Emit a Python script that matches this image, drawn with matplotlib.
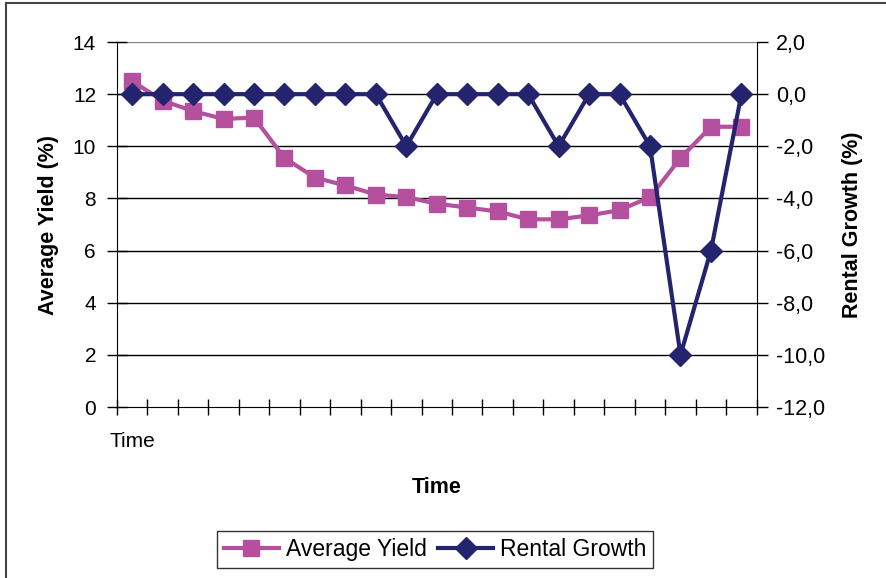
import matplotlib
matplotlib.use("Agg")
import matplotlib.pyplot as plt
from matplotlib.lines import Line2D
import numpy as np

plt.rcParams['font.family'] = ['Liberation Sans', 'DejaVu Sans']

categories = ["Time"] + [""] * 20
average_yield = [12.5, 11.75, 11.35, 11.05, 11.1, 9.55, 8.8, 8.5, 8.15, 8.05,
                 7.8, 7.65, 7.5, 7.2, 7.2, 7.35, 7.55, 8.05, 9.55, 10.75, 10.75]
rental_growth = [0, 0, 0, 0, 0, 0, 0, 0, 0, -2, 0, 0, 0, 0, -2, 0, 0, -2, -10, -6, 0]

pink = "#B5509F"
navy = "#24246E"

fig = plt.figure(figsize=(8.86, 5.78), dpi=100)
ax = fig.add_axes([0.132, 0.2958, 0.722, 0.6315])
ax2 = ax.twinx()

x = np.arange(len(categories))

ax.set_ylim(0, 14)
ax.set_yticks(np.arange(0, 15, 2))
ax.set_xlim(-0.5, len(categories) - 0.5)
ax.set_xticks(np.arange(-0.5, len(categories), 1.0))
ax.set_xticklabels([])
ax.set_xticks(x, minor=True)
ax.set_xticklabels(categories, minor=True)
ax.tick_params(axis='x', which='minor', length=0, pad=18, labelsize=15)
ax.tick_params(axis='x', which='major', direction='inout', length=12, width=1)
ax.tick_params(axis='y', which='major', direction='inout', length=14, width=1, labelsize=15, pad=8)

for yv in np.arange(2, 15, 2):
    ax.axhline(yv, color='black' if yv < 14 else '#808080', lw=1 if yv < 14 else 1.6, zorder=0)

ax2.set_ylim(-12, 2)
ax2.set_yticks(np.arange(-12, 3, 2))
ax2.set_yticklabels([f"{v:.1f}".replace('.', ',') for v in np.arange(-12, 3, 2)])
ax2.tick_params(axis='y', direction='out', length=8, width=1, labelsize=15.5, pad=6)

for a in (ax, ax2):
    a.spines['top'].set_visible(False)
    a.patch.set_visible(False)
ax.spines['right'].set_visible(False)
ax2.spines['left'].set_visible(False)
ax2.spines['bottom'].set_visible(False)

ax.plot(x, average_yield, color=pink, lw=3, marker='s', markersize=11,
        markeredgecolor=pink, zorder=3)
ax2.plot(x, rental_growth, color=navy, lw=3, marker='D', markersize=11,
         markeredgecolor=navy, zorder=4)

ax.set_ylabel("Average Yield (%)", fontsize=15.5, fontweight='bold', labelpad=10)
ax2.set_ylabel("Rental Growth (%)", fontsize=15.5, fontweight='bold', labelpad=12)
ax.set_xlabel("Time", fontsize=15.5, fontweight='bold', labelpad=19)

handles = [
    Line2D([], [], color=pink, lw=3, marker='s', markersize=11),
    Line2D([], [], color=navy, lw=3, marker='D', markersize=11),
]
leg = fig.legend(handles, ["Average Yield", "Rental Growth"], loc='center',
                 bbox_to_anchor=(0.491, 0.049), ncol=2, frameon=True, fancybox=False,
                 fontsize=16.5, handlelength=2.4, handletextpad=0.3, columnspacing=0.5,
                 borderpad=0.3, borderaxespad=0, edgecolor='black')
leg.get_frame().set_linewidth(1)

# Outer frame edges
fig.add_artist(Line2D([0.0068, 0.0068], [0.0, 0.9948], transform=fig.transFigure,
                      color='#444444', lw=1.5))
fig.add_artist(Line2D([0.0068, 1.0], [0.9948, 0.9948], transform=fig.transFigure,
                      color='#444444', lw=1.5))

fig.savefig("out.png", dpi=100)
